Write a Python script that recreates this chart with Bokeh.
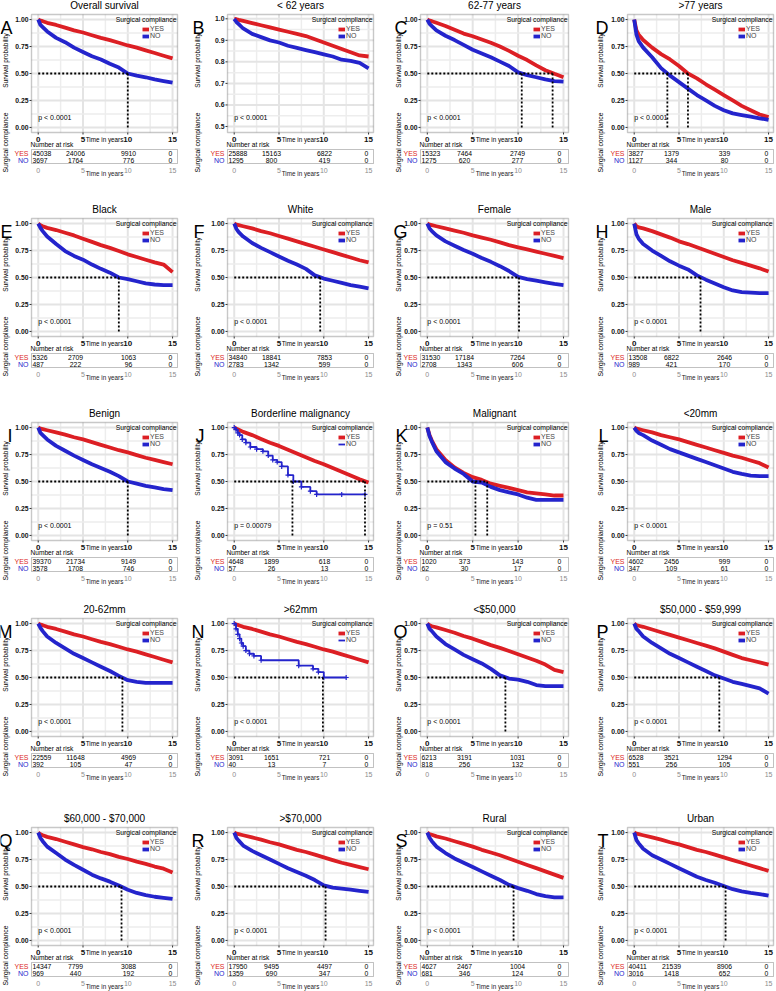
import math
from bokeh.plotting import figure
from bokeh.models import (Range1d, Label, Legend, LegendItem, BoxAnnotation,
                          ColumnDataSource)
from bokeh.layouts import gridplot
from bokeh.embed import file_html
from bokeh.resources import INLINE

FONT = "Liberation Sans"
RED = "#DC1F24"
BLUE = "#2424CC"

# ---------------------------------------------------------------- data
letters = list("ABCDEFGHIJKLMNOPQRST")
titles = ["Overall survival", "< 62 years", "62-77 years", ">77 years",
          "Black", "White", "Female", "Male",
          "Benign", "Borderline malignancy", "Malignant", "<20mm",
          "20-62mm", ">62mm", "<$50,000", "$50,000 - $59,999",
          "$60,000 - $70,000", ">$70,000", "Rural", "Urban"]
p_values = ["p < 0.0001"] * 9 + ["p = 0.00079", "p = 0.51"] + ["p < 0.0001"] * 9

# survival estimates at these times (years)
years = [0, 0.25, 0.5, 1, 2, 3, 4, 5, 6, 7, 8, 9, 10, 11, 12, 13, 14, 15]

yes_A = [1.0, 0.99, 0.985, 0.97, 0.95, 0.925, 0.90, 0.88, 0.855, 0.83, 0.81, 0.785, 0.76, 0.74, 0.715, 0.69, 0.665, 0.64]
no_A = [1.0, 0.95, 0.93, 0.89, 0.83, 0.79, 0.74, 0.70, 0.66, 0.63, 0.59, 0.555, 0.50, 0.48, 0.465, 0.445, 0.43, 0.415]
yes_B = [1.0, 0.998, 0.995, 0.99, 0.98, 0.97, 0.96, 0.95, 0.94, 0.93, 0.92, 0.905, 0.89, 0.875, 0.86, 0.845, 0.83, 0.825]
no_B = [1.0, 0.985, 0.975, 0.955, 0.93, 0.915, 0.90, 0.89, 0.875, 0.865, 0.855, 0.845, 0.835, 0.825, 0.81, 0.805, 0.795, 0.77]
yes_C = [1.0, 0.99, 0.985, 0.97, 0.94, 0.905, 0.87, 0.845, 0.815, 0.785, 0.75, 0.71, 0.665, 0.625, 0.575, 0.53, 0.497, 0.465]
no_C = [1.0, 0.96, 0.94, 0.90, 0.85, 0.81, 0.765, 0.72, 0.685, 0.65, 0.61, 0.57, 0.51, 0.485, 0.465, 0.445, 0.43, 0.425]
yes_D = [1.0, 0.90, 0.86, 0.81, 0.74, 0.68, 0.63, 0.57, 0.50, 0.455, 0.40, 0.35, 0.30, 0.25, 0.20, 0.16, 0.12, 0.095]
no_D = [1.0, 0.86, 0.80, 0.74, 0.65, 0.55, 0.48, 0.42, 0.36, 0.30, 0.25, 0.20, 0.16, 0.13, 0.115, 0.10, 0.085, 0.07]
yes_E = [1.0, 0.985, 0.975, 0.96, 0.94, 0.915, 0.89, 0.86, 0.83, 0.80, 0.775, 0.745, 0.715, 0.69, 0.665, 0.64, 0.62, 0.55]
no_E = [1.0, 0.96, 0.93, 0.88, 0.81, 0.745, 0.70, 0.665, 0.62, 0.58, 0.545, 0.50, 0.485, 0.465, 0.445, 0.435, 0.43, 0.43]
yes_F = [1.0, 0.99, 0.985, 0.975, 0.955, 0.93, 0.91, 0.885, 0.86, 0.835, 0.81, 0.785, 0.76, 0.735, 0.71, 0.685, 0.66, 0.64]
no_F = [1.0, 0.95, 0.92, 0.88, 0.82, 0.775, 0.735, 0.695, 0.655, 0.62, 0.58, 0.52, 0.49, 0.47, 0.45, 0.43, 0.415, 0.40]
yes_G = [1.0, 0.99, 0.985, 0.975, 0.955, 0.935, 0.915, 0.89, 0.87, 0.85, 0.825, 0.80, 0.78, 0.76, 0.74, 0.72, 0.70, 0.68]
no_G = [1.0, 0.955, 0.93, 0.89, 0.835, 0.795, 0.755, 0.72, 0.68, 0.645, 0.605, 0.56, 0.505, 0.485, 0.47, 0.455, 0.44, 0.43]
yes_H = [1.0, 0.975, 0.965, 0.955, 0.93, 0.90, 0.87, 0.835, 0.81, 0.78, 0.75, 0.72, 0.69, 0.66, 0.635, 0.61, 0.585, 0.555]
no_H = [1.0, 0.90, 0.86, 0.81, 0.75, 0.70, 0.65, 0.61, 0.575, 0.52, 0.48, 0.445, 0.41, 0.38, 0.365, 0.36, 0.355, 0.355]
yes_I = [1.0, 0.99, 0.985, 0.975, 0.955, 0.935, 0.91, 0.89, 0.865, 0.84, 0.815, 0.79, 0.77, 0.745, 0.72, 0.70, 0.68, 0.66]
no_I = [1.0, 0.95, 0.93, 0.89, 0.83, 0.785, 0.74, 0.70, 0.66, 0.625, 0.59, 0.55, 0.50, 0.48, 0.46, 0.445, 0.43, 0.42]
yes_J = [1.0, 0.99, 0.98, 0.96, 0.93, 0.895, 0.86, 0.83, 0.795, 0.76, 0.725, 0.69, 0.66, 0.625, 0.59, 0.555, 0.52, 0.49]
yes_K = [1.0, 0.93, 0.88, 0.80, 0.70, 0.63, 0.58, 0.54, 0.515, 0.48, 0.46, 0.44, 0.42, 0.40, 0.39, 0.38, 0.37, 0.37]
no_K = [1.0, 0.92, 0.87, 0.78, 0.68, 0.62, 0.57, 0.50, 0.49, 0.45, 0.42, 0.40, 0.38, 0.35, 0.33, 0.33, 0.33, 0.33]
yes_L = [1.0, 0.99, 0.985, 0.975, 0.955, 0.93, 0.91, 0.89, 0.865, 0.84, 0.815, 0.79, 0.765, 0.74, 0.72, 0.695, 0.67, 0.63]
no_L = [1.0, 0.97, 0.95, 0.93, 0.88, 0.84, 0.80, 0.77, 0.74, 0.71, 0.68, 0.65, 0.62, 0.59, 0.57, 0.555, 0.55, 0.55]
yes_M = [1.0, 0.99, 0.985, 0.97, 0.95, 0.925, 0.90, 0.88, 0.855, 0.83, 0.81, 0.785, 0.76, 0.74, 0.715, 0.69, 0.665, 0.64]
no_M = [1.0, 0.96, 0.93, 0.88, 0.82, 0.77, 0.72, 0.68, 0.64, 0.60, 0.56, 0.515, 0.475, 0.46, 0.45, 0.45, 0.45, 0.45]
yes_N = [1.0, 0.99, 0.985, 0.97, 0.95, 0.925, 0.90, 0.88, 0.855, 0.83, 0.81, 0.785, 0.76, 0.74, 0.715, 0.69, 0.665, 0.64]
yes_O = [1.0, 0.985, 0.975, 0.965, 0.94, 0.915, 0.885, 0.86, 0.83, 0.80, 0.775, 0.745, 0.715, 0.685, 0.655, 0.62, 0.57, 0.55]
no_O = [1.0, 0.95, 0.93, 0.88, 0.81, 0.76, 0.71, 0.67, 0.63, 0.58, 0.52, 0.49, 0.48, 0.46, 0.43, 0.42, 0.42, 0.42]
yes_P = [1.0, 0.985, 0.98, 0.97, 0.945, 0.92, 0.895, 0.87, 0.845, 0.82, 0.795, 0.77, 0.74, 0.71, 0.68, 0.66, 0.64, 0.62]
no_P = [1.0, 0.95, 0.93, 0.88, 0.82, 0.77, 0.72, 0.68, 0.64, 0.60, 0.56, 0.52, 0.49, 0.46, 0.44, 0.42, 0.40, 0.35]
yes_Q = [1.0, 0.985, 0.975, 0.96, 0.94, 0.915, 0.89, 0.865, 0.845, 0.82, 0.80, 0.775, 0.755, 0.73, 0.71, 0.685, 0.665, 0.63]
no_Q = [1.0, 0.95, 0.92, 0.87, 0.81, 0.75, 0.70, 0.655, 0.61, 0.575, 0.545, 0.51, 0.47, 0.44, 0.42, 0.405, 0.395, 0.385]
yes_R = [1.0, 0.99, 0.985, 0.975, 0.955, 0.935, 0.91, 0.89, 0.865, 0.84, 0.82, 0.795, 0.77, 0.745, 0.72, 0.70, 0.68, 0.66]
no_R = [1.0, 0.95, 0.925, 0.88, 0.83, 0.79, 0.75, 0.71, 0.67, 0.635, 0.60, 0.56, 0.51, 0.49, 0.48, 0.47, 0.46, 0.45]
yes_S = [1.0, 0.985, 0.98, 0.965, 0.945, 0.92, 0.895, 0.87, 0.84, 0.815, 0.79, 0.76, 0.73, 0.70, 0.67, 0.64, 0.61, 0.58]
no_S = [1.0, 0.95, 0.92, 0.87, 0.81, 0.76, 0.72, 0.68, 0.64, 0.60, 0.56, 0.515, 0.485, 0.46, 0.43, 0.41, 0.40, 0.40]
yes_T = [1.0, 0.99, 0.985, 0.975, 0.955, 0.935, 0.91, 0.89, 0.865, 0.84, 0.82, 0.795, 0.77, 0.745, 0.72, 0.695, 0.67, 0.645]
no_T = [1.0, 0.93, 0.90, 0.85, 0.79, 0.75, 0.71, 0.67, 0.63, 0.59, 0.56, 0.535, 0.505, 0.475, 0.455, 0.44, 0.43, 0.415]

# small groups: step curves with their own event times
no_J_t = [0, 0.2, 0.4, 0.6, 0.9, 1.3, 1.8, 2.5, 3.2, 3.8, 4.3, 4.8, 5.3, 6.0, 6.6, 7.5, 8.5, 9.2, 12.0, 14.6]
no_J = [1.0, 0.98, 0.95, 0.93, 0.89, 0.86, 0.82, 0.80, 0.78, 0.74, 0.70, 0.68, 0.64, 0.56, 0.50, 0.45, 0.41, 0.38, 0.38, 0.38]
no_N_t = [0, 0.2, 0.4, 0.6, 0.8, 1.0, 1.3, 1.7, 2.2, 3.0, 7.2, 8.8, 9.4, 10.0, 12.5]
no_N = [1.0, 0.95, 0.90, 0.86, 0.82, 0.79, 0.75, 0.72, 0.70, 0.66, 0.61, 0.58, 0.55, 0.50, 0.50]

median_yes = [None, None, 13.8, 6.0, None, None, None, None, None, 14.6,
              6.6, None, None, None, None, None, None, None, None, None]
median_no = [10.0, None, 10.4, 3.7, 9.0, 9.6, 10.1, 7.4, 10.0, 6.5,
             5.3, None, 9.4, 9.9, 8.6, 9.5, 9.3, 10.2, 9.5, 10.2]

risk_yes = [[45038, 24006, 9910, 0], [25888, 15163, 6822, 0], [15323, 7464, 2749, 0], [3827, 1379, 339, 0],
            [5326, 2709, 1063, 0], [34840, 18841, 7853, 0], [31530, 17184, 7264, 0], [13508, 6822, 2646, 0],
            [39370, 21734, 9149, 0], [4648, 1899, 618, 0], [1020, 373, 143, 0], [4602, 2456, 999, 0],
            [22559, 11648, 4969, 0], [3091, 1651, 721, 0], [6213, 3191, 1031, 0], [6528, 3521, 1294, 0],
            [14347, 7799, 3088, 0], [17950, 9495, 4497, 0], [4627, 2467, 1004, 0], [40411, 21539, 8906, 0]]
risk_no = [[3697, 1764, 776, 0], [1295, 800, 419, 0], [1275, 620, 277, 0], [1127, 344, 80, 0],
           [487, 222, 96, 0], [2783, 1342, 599, 0], [2708, 1343, 606, 0], [989, 421, 170, 0],
           [3578, 1708, 746, 0], [57, 26, 13, 0], [62, 30, 17, 0], [347, 109, 61, 0],
           [392, 105, 47, 0], [40, 13, 7, 0], [818, 256, 132, 0], [551, 256, 105, 0],
           [969, 440, 192, 0], [1359, 690, 347, 0], [681, 346, 124, 0], [3016, 1418, 652, 0]]

x_ticks = [0, 5, 10, 15]
x_minor = [2.5, 7.5, 12.5]

yes_curves = [yes_A, yes_B, yes_C, yes_D, yes_E, yes_F, yes_G, yes_H, yes_I, yes_J,
              yes_K, yes_L, yes_M, yes_N, yes_O, yes_P, yes_Q, yes_R, yes_S, yes_T]
no_curves = [(years, no_A), (years, no_B), (years, no_C), (years, no_D), (years, no_E),
             (years, no_F), (years, no_G), (years, no_H), (years, no_I), (no_J_t, no_J),
             (years, no_K), (years, no_L), (years, no_M), (no_N_t, no_N), (years, no_O),
             (years, no_P), (years, no_Q), (years, no_R), (years, no_S), (years, no_T)]

# ---------------------------------------------------------------- layout
COL_W = [190, 198, 202, 186]
COL_LEFT = [31, 37, 32, 37]
FRAME_W = [146, 146, 148, 146]
LETTER_DX = [-19, -23, -13, -19]
YLAB_DX = [-26, -30, -22, -27]
ROW_H = [204, 204, 196, 209, 178]
TOP = 14
FRAME_H = 118
X_RANGE = (-0.75, 15.55)
GRID = "#E4E4E4"


def lab(p, x, y, text, size, color="#000000", align="left", baseline="middle",
        style="normal", angle=0.0):
    p.add_layout(Label(x=x, y=y, text=text, text_font=FONT, text_font_size=size,
                       text_color=color, text_align=align, text_baseline=baseline,
                       text_font_style=style, angle=angle))


def make_panel(i):
    r, c = divmod(i, 4)
    W, H = COL_W[c], ROW_H[r]
    L, fw = COL_LEFT[c], FRAME_W[c]
    R = W - L - fw
    BOT = H - TOP - FRAME_H
    if i == 1:
        yr = (0.472, 1.02)
        yt, ym, fmt = [0.5, 0.6, 0.7, 0.8, 0.9, 1.0], [0.55, 0.65, 0.75, 0.85, 0.95], "%.1f"
    else:
        yr = (-0.047, 1.047)
        yt, ym, fmt = [0, 0.25, 0.5, 0.75, 1.0], [0.125, 0.375, 0.625, 0.875], "%.2f"
    x0, x1 = X_RANGE
    y0, y1 = yr
    ppx = fw / (x1 - x0)
    ppy = FRAME_H / (y1 - y0)

    def X(px):  # pixels right of the plot box's left edge -> data x
        return x0 + px / ppx

    def Y(py):  # pixels below the plot box's top edge -> data y
        return y1 - py / ppy

    # the canvas spans the whole panel; the survival plot box sits inside it
    p = figure(width=W, height=H,
               x_range=Range1d(x0 - L / ppx, x1 + R / ppx),
               y_range=Range1d(y0 - BOT / ppy, y1 + TOP / ppy),
               min_border=0, x_axis_location=None, y_axis_location=None,
               outline_line_color=None, output_backend="svg",
               toolbar_location=None, tools="")
    p.background_fill_color = "white"
    p.border_fill_color = "white"
    p.grid.visible = False

    # grid
    p.segment(x0=x_ticks, y0=[y0] * 4, x1=x_ticks, y1=[y1] * 4,
              line_color=GRID, line_width=2)
    p.segment(x0=x_minor, y0=[y0] * 3, x1=x_minor, y1=[y1] * 3,
              line_color="#EDEDED", line_width=1.5)
    p.segment(x0=[x0] * len(yt), y0=yt, x1=[x1] * len(yt), y1=yt,
              line_color=GRID, line_width=2)
    p.segment(x0=[x0] * len(ym), y0=ym, x1=[x1] * len(ym), y1=ym,
              line_color="#EDEDED", line_width=1.5)

    # survival curves
    src_yes = ColumnDataSource(dict(t=years, s=yes_curves[i]))
    nt, ns = no_curves[i]
    src_no = ColumnDataSource(dict(t=nt, s=ns))
    r_yes = p.line("t", "s", source=src_yes, line_color=RED, line_width=3.8)
    if nt is years:
        r_no = p.line("t", "s", source=src_no, line_color=BLUE, line_width=3.8)
    else:
        r_no = p.step("t", "s", source=src_no, mode="after", line_color=BLUE,
                      line_width=1.8)
        p.scatter("t", "s", source=src_no, marker="cross", size=5, line_color=BLUE,
                  line_width=1.2)

    # median survival guides
    meds = [m for m in (median_yes[i], median_no[i]) if m is not None]
    if meds:
        p.segment(x0=[0], y0=[0.5], x1=[max(meds)], y1=[0.5], line_color="black",
                  line_width=1.8, line_dash="2 2")
        p.segment(x0=meds, y0=[0.5] * len(meds), x1=meds, y1=[0] * len(meds),
                  line_color="black", line_width=1.8, line_dash="2 2")

    # plot box outline
    p.add_layout(BoxAnnotation(left=x0, right=x1, bottom=y0, top=y1, fill_alpha=0,
                               line_color="#4a4a4a", line_width=1.4))

    # axes: ticks and labels
    p.segment(x0=[X(-2)] * len(yt), y0=yt, x1=[x0] * len(yt), y1=yt,
              line_color="#333333", line_width=1)
    for t in yt:
        lab(p, X(-3), t, fmt % t, "6.8px", color="#111111", align="right", style="bold")
    p.segment(x0=x_ticks, y0=[y0] * 4, x1=x_ticks, y1=[Y(FRAME_H + 2)] * 4,
              line_color="#333333", line_width=1)
    for t in x_ticks:
        lab(p, t, Y(FRAME_H + 7), str(t), "8px", color="#111111", align="center",
            style="bold")
        lab(p, t, Y(FRAME_H + 38), str(t), "7px", color="#8c8c8c", align="center")
    lab(p, X(fw / 2), Y(FRAME_H + 7), "Time in years", "6.3px", align="center")
    lab(p, X(fw / 2), Y(FRAME_H + 41), "Time in years", "6.3px", color="#222222",
        align="center")

    # legend
    leg = Legend(items=[LegendItem(label="YES", renderers=[r_yes]),
                        LegendItem(label="NO", renderers=[r_no])],
                 location=(L + fw - 35, H - TOP - 25), orientation="vertical",
                 label_text_font=FONT, label_text_font_size="7px",
                 glyph_width=7, glyph_height=6, label_height=7, label_standoff=1,
                 spacing=0, padding=0, margin=0, background_fill_alpha=0,
                 border_line_alpha=0)
    p.add_layout(leg)
    lab(p, X(fw - 1), Y(5), "Surgical compliance", "6.8px", align="right")

    # texts around the plot box
    lab(p, X(fw / 2), Y(-9), titles[i], "10px", align="center")
    lab(p, X(LETTER_DX[c]), Y(13), letters[i], "18px", align="right",
        baseline="alphabetic")
    lab(p, X(YLAB_DX[c]), Y(46), "Survival probability", "6.5px", align="center",
        angle=math.pi / 2)
    lab(p, X(YLAB_DX[c]), Y(FRAME_H + 10), "Surgical compliance", "6.7px",
        align="center", angle=math.pi / 2)
    lab(p, 0, Y(103), p_values[i], "7px")

    # number at risk table
    lab(p, X(-1), Y(FRAME_H + 12), "Number at risk", "6.6px")
    p.add_layout(BoxAnnotation(left=x0, right=x1, top=Y(FRAME_H + 17),
                               bottom=Y(FRAME_H + 31), fill_alpha=0,
                               line_color="#333333", line_width=1))
    lab(p, X(-3), Y(FRAME_H + 20.5), "YES", "7px", color=RED, align="right")
    lab(p, X(-3), Y(FRAME_H + 28), "NO", "7px", color=BLUE, align="right")
    col_px = [(1, "left"), (44, "center"), (97, "center"), (139, "center")]
    for (cx, al), ny, nn in zip(col_px, risk_yes[i], risk_no[i]):
        lab(p, X(cx), Y(FRAME_H + 20.5), str(ny), "6.8px", align=al)
        lab(p, X(cx), Y(FRAME_H + 28), str(nn), "6.8px", align=al)
    return p


panels = [make_panel(i) for i in range(20)]
grid = gridplot([panels[k:k + 4] for k in range(0, 20, 4)], toolbar_location=None)

open("out.html", "w").write(file_html(grid, INLINE))
